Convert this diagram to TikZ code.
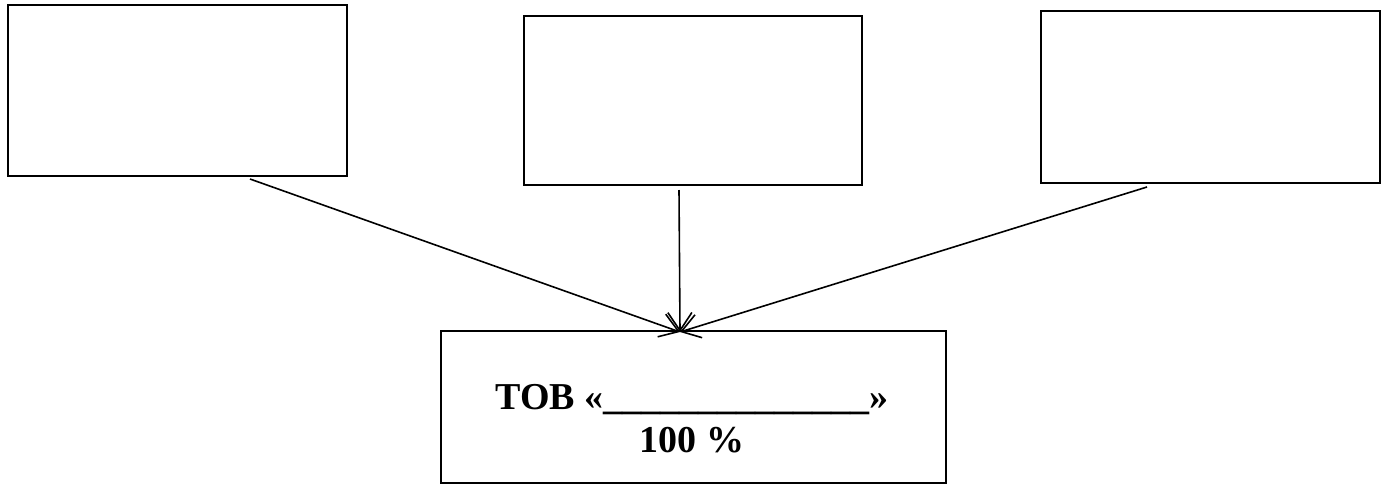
\documentclass[tikz,border=0pt]{standalone}
\usepackage{fontspec}
\setmainfont{Liberation Serif}
\usetikzlibrary{arrows.meta, positioning, calc}

\begin{document}
\begin{tikzpicture}[x=1pt, y=-1pt,
  box/.style={draw, line width=2pt, inner sep=0pt},
  link/.style={-{Straight Barb[length=18pt, width=24pt]}, line width=1.6pt}]
\useasboundingbox (0,0) rectangle (1386,485);
\node[box, minimum width=339pt, minimum height=171pt] (own1) at (177.5,90.5) {};
\node[box, minimum width=338pt, minimum height=169pt] (own2) at (693,100.5) {};
\node[box, minimum width=339pt, minimum height=172pt] (own3) at (1210.5,97) {};
\node[box, minimum width=505pt, minimum height=152pt] (firm) at (693.5,407) {};
\node[font=\fontsize{38}{43}\selectfont\bfseries, align=center] (name) at (692,419)
  {ТОВ «\_\_\_\_\_\_\_\_\_\_\_\_\_\_»\\100 \%};
\coordinate (tip) at (680,332);
\draw[link] ([xshift=243pt, yshift=-2pt]own1.south west) -- (tip);
\draw[link] ([xshift=156pt, yshift=-4pt]own2.south west) -- (tip);
\draw[link] ([xshift=107pt, yshift=-3pt]own3.south west) -- (tip);
\end{tikzpicture}
\end{document}
